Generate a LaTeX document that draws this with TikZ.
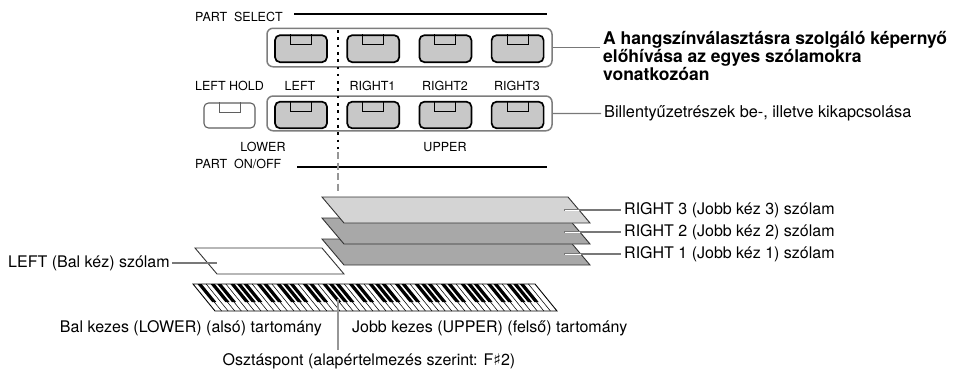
\documentclass[tikz,border=0pt]{standalone}
\usepackage{fontspec}
\setmainfont{TeX Gyre Heros}
\newfontfamily\symfont{DejaVu Sans}
\definecolor{btngray}{RGB}{200,200,200}
\definecolor{grpgray}{RGB}{125,125,125}
\definecolor{leadgray}{RGB}{120,120,120}
\definecolor{holdgray}{RGB}{95,95,95}
\definecolor{lightlayer}{RGB}{212,212,212}
\definecolor{darklayer}{RGB}{168,168,168}
\definecolor{splitgray}{RGB}{150,150,150}
\begin{document}
\begin{tikzpicture}[x=1pt,y=-1pt,
  panel/.style={font=\fontsize{12.5}{14}\selectfont, inner sep=0pt},
  lbl/.style={font=\fontsize{16}{19}\selectfont, inner sep=0pt},
  ttl/.style={font=\bfseries\fontsize{17.5}{18}\selectfont, inner sep=0pt, align=left},
  grp/.style={draw=grpgray, line width=1.5pt, rounded corners=6pt, inner sep=0pt, minimum width=285pt},
  pbtn/.style={draw=black, line width=1.7pt, fill=btngray, rounded corners=5pt,
               minimum width=52pt, minimum height=27pt, inner sep=0pt},
  hbtn/.style={draw=holdgray, line width=1.1pt, fill=white, rounded corners=4.5pt,
               minimum width=51pt, minimum height=25pt, inner sep=0pt},
  tab/.style={draw=black, line width=1pt},
  rule/.style={draw=black, line width=1.5pt},
  leader/.style={draw=leadgray, line width=1.2pt},
  layer/.style={draw=black!80, line width=0.9pt},
]
\useasboundingbox (0,0) rectangle (973,375);

% ---------- panel captions and rules ----------
\node[panel, anchor=west] (selcap) at (195,17) {PART\hspace{0.55em}SELECT};
\draw[rule] (294,14) -- (547,14);
\node[panel, anchor=west] (oncap) at (195,164) {PART\hspace{0.55em}ON/OFF};
\draw[rule] (297,167) -- (547,167);

% ---------- button groups ----------
\node[grp, minimum height=38.5pt] (selgrp) at (409.5,47.5) {};
\node[grp, minimum height=34.7pt] (ongrp) at (409.5,113.4) {};

\foreach \nm/\x in {left/301, ra/373.2, rb/445.4, rc/517.6} {
  \node[pbtn] (sel\nm) at (\x,48.7) {};
  \draw[tab] ([xshift=-10.5pt]sel\nm.north) -- ++(0,10.5) -- ++(21,0) -- ++(0,-10.5);
  \node[pbtn, minimum height=26.6pt] (on\nm) at (\x,115) {};
  \draw[tab] ([xshift=-10.5pt]on\nm.north) -- ++(0,10.5) -- ++(21,0) -- ++(0,-10.5);
}

% LEFT HOLD button
\node[hbtn] (hold) at (229.5,115.5) {};
\draw[draw=holdgray, line width=0.9pt] ([xshift=-10.5pt]hold.north) -- ++(0,9.5) -- ++(21,0) -- ++(0,-9.5);

% button captions
\node[panel] (capHold) at (229.5,86) {LEFT HOLD};
\node[panel] (capLeft) at (300,86) {LEFT};
\node[panel] (capR1) at (372.5,86) {RIGHT1};
\node[panel] (capR2) at (445,86) {RIGHT2};
\node[panel] (capR3) at (517,86) {RIGHT3};
\node[panel] (capLower) at (263,147) {LOWER};
\node[panel] (capUpper) at (445,147) {UPPER};

% split marker through the panel
\draw[black, line width=2.6pt, dash pattern=on 2.6pt off 4.7pt] (338,30) -- (338,150);
\draw[splitgray, line width=2.6pt, dash pattern=on 7pt off 3.5pt] (338,152) -- (338,192);

% ---------- right-hand descriptions ----------
\node[ttl, anchor=north west] (title) at (603,31.5)
  {A hangszínválasztásra szolgáló képernyő\\előhívása az egyes szólamokra\\vonatkozóan};
\coordinate (selend) at (600,47.5);
\draw[leader] (selgrp.east) -- (selend);
\node[lbl, font=\fontsize{16.3}{19}\selectfont, anchor=west] (onoff) at (604,113.5)
  {Billentyűzetrészek be-, illetve kikapcsolása};
\draw[leader] (ongrp.east) -- ([xshift=-3pt]onoff.west);

% ---------- voice layers ----------
\filldraw[layer, fill=darklayer] (322,239) -- (568,239) -- (590,265) -- (344,265) -- cycle;
\filldraw[layer, fill=darklayer] (322,218) -- (568,218) -- (590,244) -- (344,244) -- cycle;
\filldraw[layer, fill=lightlayer] (322,197) -- (568,197) -- (590,223) -- (344,223) -- cycle;
\filldraw[layer, fill=white] (195,248) -- (322,248) -- (344,274) -- (217,274) -- cycle;

\node[lbl, anchor=west] (r3lbl) at (624,210) {RIGHT 3 (Jobb kéz 3) szólam};
\node[lbl, anchor=west] (r2lbl) at (624,232) {RIGHT 2 (Jobb kéz 2) szólam};
\node[lbl, anchor=west] (r1lbl) at (624,254) {RIGHT 1 (Jobb kéz 1) szólam};
\foreach \r/\y/\e in {r3/210/579, r2/232/580, r1/254/581} {
  \coordinate (\r in) at (564,\y);
  \coordinate (\r edge) at (\e,\y);
  \draw[leadgray, line width=2.6pt] (\r in) -- (\r edge);
  \draw[white, line width=0.9pt] ([xshift=0.8pt]\r in) -- (\r edge);
  \draw[leader] (\r edge) -- ([xshift=-3pt]\r lbl.west);
}

\node[lbl, anchor=west] (leftlbl) at (8,263) {LEFT (Bal kéz) szólam};
\coordinate (leftin) at (217,263);
\draw[leader] ([xshift=2pt]leftlbl.east) -- (leftin);

% ---------- keyboard ----------
\pgfmathsetmacro\kw{342/52}
\fill[white] (193,284) -- (535,284) -- (557,311) -- (215,311) -- cycle;
\foreach \i in {1,...,51}
  \draw[line width=0.55pt] ({193+\i*\kw},284) -- ++(22,27);
\foreach \i in {0,...,50}{
  \pgfmathtruncatemacro\n{mod(\i,7)}
  \ifnum\n=1\relax\else\ifnum\n=4\relax\else
    \pgfmathsetmacro\bx{193+(\i+1)*\kw}
    \fill (\bx-2.1,284) -- (\bx+2.1,284) -- (\bx+2.1+14.7,302) -- (\bx-2.1+14.7,302) -- cycle;
  \fi\fi
}
\draw[line width=0.9pt] (193,284) -- (535,284) -- (557,311) -- (215,311) -- cycle;

% ---------- range captions and split point ----------
\node[lbl, anchor=east] (lowlbl) at (322,328) {Bal kezes (LOWER) (alsó) tartomány};
\node[lbl, anchor=west] (uplbl) at (352,328) {Jobb kezes (UPPER) (felső) tartomány};
\node[lbl] (splitlbl) at (369,361) {Osztáspont (alapértelmezés szerint: F{\symfont ♯}2)};
\coordinate (splitkey) at (338,299);
\draw[splitgray, line width=1.4pt] (splitkey) -- ([yshift=3pt]splitkey |- splitlbl.north);

\end{tikzpicture}
\end{document}
